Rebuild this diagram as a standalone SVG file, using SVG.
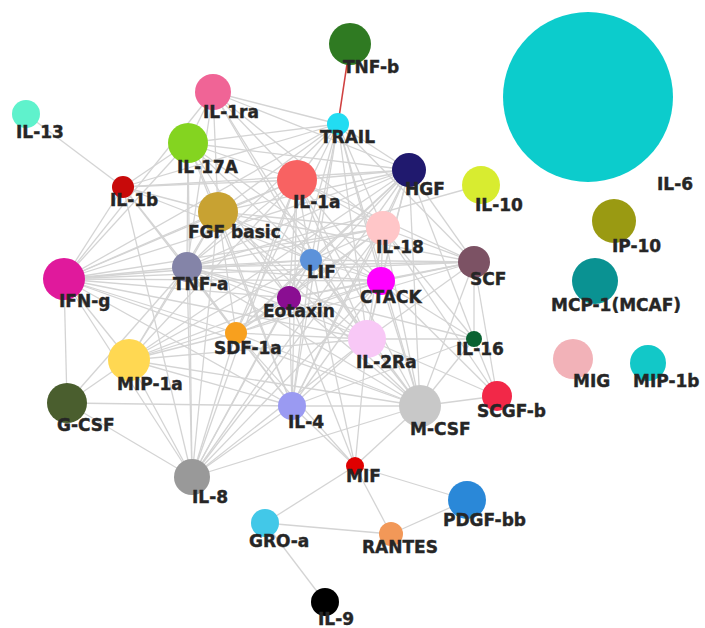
<svg xmlns="http://www.w3.org/2000/svg" width="705" height="628" viewBox="0 0 705 628">
<style>
.e line{stroke:#d4d4d4;stroke-width:1.3;fill:none}
line.red{stroke:#d04040;stroke-width:1.6}
text{font-family:"DejaVu Sans","Liberation Sans",Arial,sans-serif;font-weight:bold;font-size:17px;fill:#262626;stroke:#262626;stroke-width:0.4}
</style>
<rect width="705" height="628" fill="#ffffff"/>
<g id="connectors" class="e">
<line x1="26" y1="114" x2="123" y2="187"/>
<line x1="325" y1="602" x2="265" y2="523"/>
<line x1="265" y1="523" x2="391" y2="534"/>
<line x1="265" y1="523" x2="355" y2="466"/>
<line x1="391" y1="534" x2="355" y2="466"/>
<line x1="391" y1="534" x2="467" y2="500"/>
<line x1="467" y1="500" x2="355" y2="466"/>
<line x1="481" y1="185" x2="187" y2="267"/>
<line x1="123" y1="187" x2="188" y2="143"/>
<line x1="123" y1="187" x2="218" y2="212"/>
<line x1="123" y1="187" x2="64" y2="279"/>
<line x1="123" y1="187" x2="187" y2="267"/>
<line x1="123" y1="187" x2="297" y2="180"/>
<line x1="123" y1="187" x2="311" y2="260"/>
<line x1="123" y1="187" x2="192" y2="477"/>
<line x1="123" y1="187" x2="236" y2="333"/>
<line x1="123" y1="187" x2="409" y2="170"/>
<line x1="188" y1="143" x2="213" y2="92"/>
<line x1="188" y1="143" x2="218" y2="212"/>
<line x1="188" y1="143" x2="64" y2="279"/>
<line x1="188" y1="143" x2="187" y2="267"/>
<line x1="188" y1="143" x2="338" y2="124"/>
<line x1="188" y1="143" x2="409" y2="170"/>
<line x1="188" y1="143" x2="297" y2="180"/>
<line x1="188" y1="143" x2="311" y2="260"/>
<line x1="188" y1="143" x2="289" y2="298"/>
<line x1="188" y1="143" x2="192" y2="477"/>
<line x1="188" y1="143" x2="292" y2="406"/>
<line x1="188" y1="143" x2="381" y2="281"/>
<line x1="213" y1="92" x2="338" y2="124"/>
<line x1="213" y1="92" x2="297" y2="180"/>
<line x1="213" y1="92" x2="409" y2="170"/>
<line x1="213" y1="92" x2="218" y2="212"/>
<line x1="213" y1="92" x2="311" y2="260"/>
<line x1="213" y1="92" x2="383" y2="228"/>
<line x1="213" y1="92" x2="64" y2="279"/>
<line x1="213" y1="92" x2="367" y2="339"/>
<line x1="213" y1="92" x2="187" y2="267"/>
<line x1="338" y1="124" x2="297" y2="180"/>
<line x1="338" y1="124" x2="409" y2="170"/>
<line x1="338" y1="124" x2="218" y2="212"/>
<line x1="338" y1="124" x2="383" y2="228"/>
<line x1="338" y1="124" x2="311" y2="260"/>
<line x1="338" y1="124" x2="381" y2="281"/>
<line x1="338" y1="124" x2="289" y2="298"/>
<line x1="338" y1="124" x2="236" y2="333"/>
<line x1="338" y1="124" x2="367" y2="339"/>
<line x1="338" y1="124" x2="64" y2="279"/>
<line x1="338" y1="124" x2="187" y2="267"/>
<line x1="338" y1="124" x2="420" y2="406"/>
<line x1="338" y1="124" x2="292" y2="406"/>
<line x1="338" y1="124" x2="474" y2="262"/>
<line x1="338" y1="124" x2="123" y2="187"/>
<line x1="409" y1="170" x2="297" y2="180"/>
<line x1="409" y1="170" x2="218" y2="212"/>
<line x1="409" y1="170" x2="383" y2="228"/>
<line x1="409" y1="170" x2="311" y2="260"/>
<line x1="409" y1="170" x2="381" y2="281"/>
<line x1="409" y1="170" x2="289" y2="298"/>
<line x1="409" y1="170" x2="236" y2="333"/>
<line x1="409" y1="170" x2="64" y2="279"/>
<line x1="409" y1="170" x2="187" y2="267"/>
<line x1="409" y1="170" x2="367" y2="339"/>
<line x1="409" y1="170" x2="420" y2="406"/>
<line x1="409" y1="170" x2="292" y2="406"/>
<line x1="409" y1="170" x2="474" y2="262"/>
<line x1="409" y1="170" x2="474" y2="339"/>
<line x1="409" y1="170" x2="129" y2="360"/>
<line x1="409" y1="170" x2="192" y2="477"/>
<line x1="297" y1="180" x2="218" y2="212"/>
<line x1="297" y1="180" x2="383" y2="228"/>
<line x1="297" y1="180" x2="311" y2="260"/>
<line x1="297" y1="180" x2="381" y2="281"/>
<line x1="297" y1="180" x2="289" y2="298"/>
<line x1="297" y1="180" x2="236" y2="333"/>
<line x1="297" y1="180" x2="64" y2="279"/>
<line x1="297" y1="180" x2="187" y2="267"/>
<line x1="297" y1="180" x2="367" y2="339"/>
<line x1="297" y1="180" x2="420" y2="406"/>
<line x1="297" y1="180" x2="292" y2="406"/>
<line x1="297" y1="180" x2="474" y2="262"/>
<line x1="297" y1="180" x2="129" y2="360"/>
<line x1="297" y1="180" x2="192" y2="477"/>
<line x1="218" y1="212" x2="383" y2="228"/>
<line x1="218" y1="212" x2="311" y2="260"/>
<line x1="218" y1="212" x2="381" y2="281"/>
<line x1="218" y1="212" x2="187" y2="267"/>
<line x1="218" y1="212" x2="64" y2="279"/>
<line x1="218" y1="212" x2="289" y2="298"/>
<line x1="218" y1="212" x2="236" y2="333"/>
<line x1="218" y1="212" x2="367" y2="339"/>
<line x1="218" y1="212" x2="292" y2="406"/>
<line x1="218" y1="212" x2="420" y2="406"/>
<line x1="218" y1="212" x2="129" y2="360"/>
<line x1="218" y1="212" x2="192" y2="477"/>
<line x1="218" y1="212" x2="474" y2="262"/>
<line x1="383" y1="228" x2="311" y2="260"/>
<line x1="383" y1="228" x2="381" y2="281"/>
<line x1="383" y1="228" x2="474" y2="262"/>
<line x1="383" y1="228" x2="64" y2="279"/>
<line x1="383" y1="228" x2="187" y2="267"/>
<line x1="383" y1="228" x2="289" y2="298"/>
<line x1="383" y1="228" x2="236" y2="333"/>
<line x1="383" y1="228" x2="367" y2="339"/>
<line x1="383" y1="228" x2="474" y2="339"/>
<line x1="383" y1="228" x2="420" y2="406"/>
<line x1="383" y1="228" x2="292" y2="406"/>
<line x1="383" y1="228" x2="192" y2="477"/>
<line x1="383" y1="228" x2="497" y2="396"/>
<line x1="64" y1="279" x2="187" y2="267"/>
<line x1="64" y1="279" x2="311" y2="260"/>
<line x1="64" y1="279" x2="381" y2="281"/>
<line x1="64" y1="279" x2="289" y2="298"/>
<line x1="64" y1="279" x2="236" y2="333"/>
<line x1="64" y1="279" x2="367" y2="339"/>
<line x1="64" y1="279" x2="129" y2="360"/>
<line x1="64" y1="279" x2="67" y2="403"/>
<line x1="64" y1="279" x2="292" y2="406"/>
<line x1="64" y1="279" x2="420" y2="406"/>
<line x1="64" y1="279" x2="192" y2="477"/>
<line x1="64" y1="279" x2="474" y2="262"/>
<line x1="187" y1="267" x2="311" y2="260"/>
<line x1="187" y1="267" x2="381" y2="281"/>
<line x1="187" y1="267" x2="289" y2="298"/>
<line x1="187" y1="267" x2="236" y2="333"/>
<line x1="187" y1="267" x2="367" y2="339"/>
<line x1="187" y1="267" x2="129" y2="360"/>
<line x1="187" y1="267" x2="292" y2="406"/>
<line x1="187" y1="267" x2="420" y2="406"/>
<line x1="187" y1="267" x2="192" y2="477"/>
<line x1="187" y1="267" x2="67" y2="403"/>
<line x1="187" y1="267" x2="474" y2="262"/>
<line x1="187" y1="267" x2="474" y2="339"/>
<line x1="311" y1="260" x2="381" y2="281"/>
<line x1="311" y1="260" x2="289" y2="298"/>
<line x1="311" y1="260" x2="236" y2="333"/>
<line x1="311" y1="260" x2="367" y2="339"/>
<line x1="311" y1="260" x2="292" y2="406"/>
<line x1="311" y1="260" x2="420" y2="406"/>
<line x1="311" y1="260" x2="192" y2="477"/>
<line x1="311" y1="260" x2="129" y2="360"/>
<line x1="311" y1="260" x2="474" y2="262"/>
<line x1="311" y1="260" x2="355" y2="466"/>
<line x1="381" y1="281" x2="474" y2="262"/>
<line x1="381" y1="281" x2="289" y2="298"/>
<line x1="381" y1="281" x2="236" y2="333"/>
<line x1="381" y1="281" x2="367" y2="339"/>
<line x1="381" y1="281" x2="292" y2="406"/>
<line x1="381" y1="281" x2="420" y2="406"/>
<line x1="381" y1="281" x2="192" y2="477"/>
<line x1="381" y1="281" x2="129" y2="360"/>
<line x1="381" y1="281" x2="474" y2="339"/>
<line x1="381" y1="281" x2="497" y2="396"/>
<line x1="474" y1="262" x2="474" y2="339"/>
<line x1="474" y1="262" x2="420" y2="406"/>
<line x1="474" y1="262" x2="367" y2="339"/>
<line x1="474" y1="262" x2="289" y2="298"/>
<line x1="474" y1="262" x2="236" y2="333"/>
<line x1="474" y1="262" x2="497" y2="396"/>
<line x1="289" y1="298" x2="236" y2="333"/>
<line x1="289" y1="298" x2="367" y2="339"/>
<line x1="289" y1="298" x2="292" y2="406"/>
<line x1="289" y1="298" x2="420" y2="406"/>
<line x1="289" y1="298" x2="192" y2="477"/>
<line x1="289" y1="298" x2="129" y2="360"/>
<line x1="289" y1="298" x2="355" y2="466"/>
<line x1="236" y1="333" x2="367" y2="339"/>
<line x1="236" y1="333" x2="292" y2="406"/>
<line x1="236" y1="333" x2="420" y2="406"/>
<line x1="236" y1="333" x2="192" y2="477"/>
<line x1="236" y1="333" x2="129" y2="360"/>
<line x1="236" y1="333" x2="355" y2="466"/>
<line x1="367" y1="339" x2="474" y2="339"/>
<line x1="367" y1="339" x2="420" y2="406"/>
<line x1="367" y1="339" x2="292" y2="406"/>
<line x1="367" y1="339" x2="192" y2="477"/>
<line x1="367" y1="339" x2="129" y2="360"/>
<line x1="367" y1="339" x2="355" y2="466"/>
<line x1="367" y1="339" x2="497" y2="396"/>
<line x1="474" y1="339" x2="420" y2="406"/>
<line x1="474" y1="339" x2="497" y2="396"/>
<line x1="474" y1="339" x2="292" y2="406"/>
<line x1="129" y1="360" x2="67" y2="403"/>
<line x1="129" y1="360" x2="292" y2="406"/>
<line x1="129" y1="360" x2="192" y2="477"/>
<line x1="129" y1="360" x2="420" y2="406"/>
<line x1="67" y1="403" x2="192" y2="477"/>
<line x1="67" y1="403" x2="292" y2="406"/>
<line x1="292" y1="406" x2="420" y2="406"/>
<line x1="292" y1="406" x2="192" y2="477"/>
<line x1="292" y1="406" x2="355" y2="466"/>
<line x1="420" y1="406" x2="497" y2="396"/>
<line x1="420" y1="406" x2="192" y2="477"/>
<line x1="420" y1="406" x2="355" y2="466"/>
<line class="red" x1="350" y1="44" x2="338" y2="124"/>
</g>
<g id="IL-6"><circle cx="588" cy="97" r="85" fill="#0ccccc"/><text x="657" y="190">IL-6</text></g>
<g id="IL-13"><circle cx="26" cy="114" r="14" fill="#5ff2cc"/><text x="16" y="138">IL-13</text></g>
<g id="IL-1b"><circle cx="123" cy="187" r="11" fill="#c80a0a"/><text x="110" y="206">IL-1b</text></g>
<g id="IL-17A"><circle cx="188" cy="143" r="20" fill="#84d420"/><text x="177" y="173">IL-17A</text></g>
<g id="IL-1ra"><circle cx="213" cy="92" r="18" fill="#f06496"/><text x="203" y="118">IL-1ra</text></g>
<g id="TNF-b"><circle cx="350" cy="44" r="21" fill="#2f7a22"/><text x="343" y="73">TNF-b</text></g>
<g id="TRAIL"><circle cx="338" cy="124" r="11" fill="#22dcf2"/><text x="320" y="143">TRAIL</text></g>
<g id="HGF"><circle cx="409" cy="170" r="17" fill="#20196e"/><text x="405" y="195">HGF</text></g>
<g id="IL-1a"><circle cx="297" cy="180" r="20" fill="#f86262"/><text x="293" y="208">IL-1a</text></g>
<g id="IL-10"><circle cx="481" cy="185" r="19" fill="#d8ec30"/><text x="475" y="211">IL-10</text></g>
<g id="FGF-basic"><circle cx="218" cy="212" r="20" fill="#c8a232"/><text x="188" y="238">FGF basic</text></g>
<g id="IL-18"><circle cx="383" cy="228" r="17" fill="#ffc6c8"/><text x="376" y="253">IL-18</text></g>
<g id="IFN-g"><circle cx="64" cy="279" r="21" fill="#e0199c"/><text x="59" y="307">IFN-g</text></g>
<g id="TNF-a"><circle cx="187" cy="267" r="15" fill="#8484a8"/><text x="173" y="290">TNF-a</text></g>
<g id="LIF"><circle cx="311" cy="260" r="11" fill="#5c92da"/><text x="307" y="278">LIF</text></g>
<g id="CTACK"><circle cx="381" cy="281" r="14" fill="#ff00ff"/><text x="360" y="303">CTACK</text></g>
<g id="SCF"><circle cx="474" cy="262" r="16" fill="#7c5264"/><text x="470" y="285">SCF</text></g>
<g id="Eotaxin"><circle cx="289" cy="298" r="12" fill="#8a0e92"/><text x="263" y="317">Eotaxin</text></g>
<g id="SDF-1a"><circle cx="236" cy="333" r="11" fill="#f8a01e"/><text x="214" y="354">SDF-1a</text></g>
<g id="IL-2Ra"><circle cx="367" cy="339" r="19" fill="#f8c8f6"/><text x="356" y="368">IL-2Ra</text></g>
<g id="IL-16"><circle cx="474" cy="339" r="8" fill="#0a6232"/><text x="456" y="355">IL-16</text></g>
<g id="MIP-1a"><circle cx="129" cy="360" r="21" fill="#ffd852"/><text x="117" y="390">MIP-1a</text></g>
<g id="G-CSF"><circle cx="67" cy="403" r="20" fill="#4a5e2e"/><text x="57" y="431">G-CSF</text></g>
<g id="IL-4"><circle cx="292" cy="406" r="14" fill="#9a9af2"/><text x="288" y="428">IL-4</text></g>
<g id="M-CSF"><circle cx="420" cy="406" r="21" fill="#c8c8c8"/><text x="410" y="435">M-CSF</text></g>
<g id="SCGF-b"><circle cx="497" cy="396" r="15" fill="#f22848"/><text x="477" y="417">SCGF-b</text></g>
<g id="IL-8"><circle cx="192" cy="477" r="18" fill="#999999"/><text x="192" y="503">IL-8</text></g>
<g id="MIF"><circle cx="355" cy="466" r="9" fill="#e00000"/><text x="346" y="482">MIF</text></g>
<g id="PDGF-bb"><circle cx="467" cy="500" r="19" fill="#2a88d8"/><text x="443" y="526">PDGF-bb</text></g>
<g id="GRO-a"><circle cx="265" cy="523" r="14" fill="#42c8e8"/><text x="249" y="547">GRO-a</text></g>
<g id="RANTES"><circle cx="391" cy="534" r="12" fill="#f29858"/><text x="362" y="553">RANTES</text></g>
<g id="IL-9"><circle cx="325" cy="602" r="14" fill="#000000"/><text x="318" y="625">IL-9</text></g>
<g id="IP-10"><circle cx="614" cy="221" r="22" fill="#9a9a12"/><text x="612" y="252">IP-10</text></g>
<g id="MCP-1"><circle cx="595" cy="281" r="23" fill="#0a9292"/><text x="551" y="311">MCP-1(MCAF)</text></g>
<g id="MIG"><circle cx="573" cy="359" r="20" fill="#f2b2b8"/><text x="573" y="387">MIG</text></g>
<g id="MIP-1b"><circle cx="648" cy="363" r="18" fill="#12c8c8"/><text x="633" y="387">MIP-1b</text></g>
</svg>
